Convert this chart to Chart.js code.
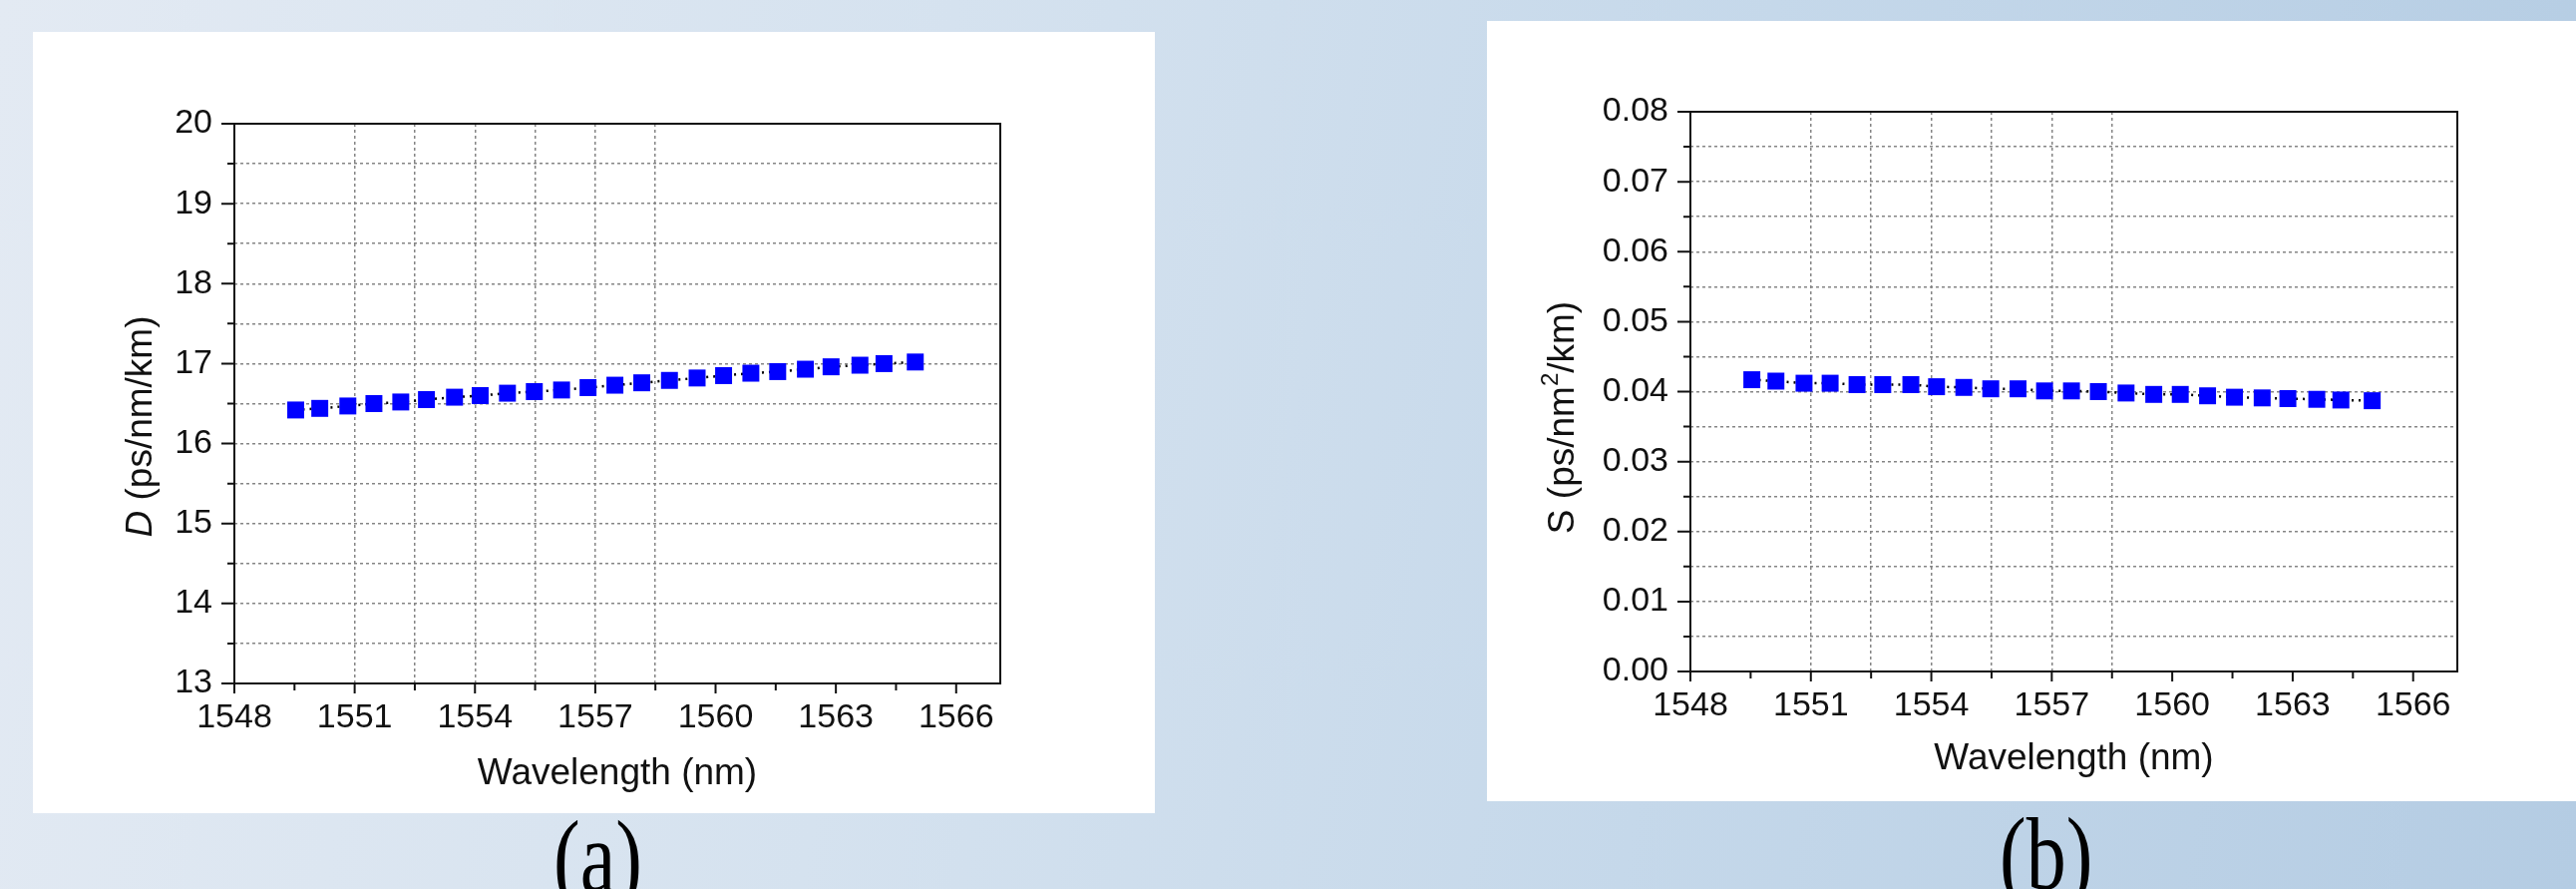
<!DOCTYPE html>
<html>
<head>
<meta charset="utf-8">
<title>Dispersion and dispersion slope</title>
<script src="https://cdn.jsdelivr.net/npm/chart.js@4.4.1/dist/chart.umd.min.js"></script>
<style>
  html, body { margin: 0; padding: 0; width: 2583px; height: 891px; overflow: hidden; }
  body {
    position: relative;
    background: linear-gradient(100deg, #e3eaf3 0%, #d5e2ef 35%, #c5d8ea 65%, #b4cce3 100%);
  }
  .panel { position: absolute; background: #fff; }
  #panelA { left: 33px; top: 32px; width: 1125px; height: 783px; }
  #panelB { left: 1491px; top: 21px; width: 1092px; height: 782px; }
  .tag {
    position: absolute; font-family: "Liberation Serif", "DejaVu Serif", "Times New Roman", serif;
    font-size: 80px; line-height: 1; color: #000;
    transform: scaleY(1.3); transform-origin: 50% 0;
  }
</style>
</head>
<body>
  <div class="panel" id="panelA"><canvas id="chartA" width="1125" height="783"></canvas></div>
  <div class="panel" id="panelB"><canvas id="chartB" width="1092" height="782"></canvas></div>
  <div class="tag" style="left:555px; top:807px;">(a)</div>
  <div class="tag" style="left:2005px; top:804px;">(b)</div>

<script>
  // wavelength of each measured channel (nm)
  const wavelength = [1549.53, 1550.13, 1550.83, 1551.48, 1552.15, 1552.79, 1553.49, 1554.13,
                      1554.81, 1555.48, 1556.16, 1556.82, 1557.49, 1558.16, 1558.85, 1559.54,
                      1560.20, 1560.88, 1561.55, 1562.24, 1562.88, 1563.60, 1564.20, 1564.98];
  // (a) dispersion D, ps/nm/km
  const dispersion = [16.42, 16.44, 16.47, 16.50, 16.52, 16.55, 16.58, 16.60,
                      16.63, 16.65, 16.67, 16.70, 16.73, 16.76, 16.79, 16.82,
                      16.85, 16.88, 16.90, 16.93, 16.96, 16.98, 17.00, 17.02];
  // (b) dispersion slope S, ps/nm^2/km
  const slope = [0.0417, 0.0415, 0.0412, 0.0412, 0.0410, 0.0410, 0.0410, 0.0407,
                 0.0406, 0.0404, 0.0404, 0.0401, 0.0401, 0.0400, 0.0398, 0.0396,
                 0.0396, 0.0394, 0.0392, 0.0391, 0.0390, 0.0389, 0.0388, 0.0387];

  const xTickLabels = [1548, 1551, 1554, 1557, 1560, 1563, 1566];
  const dTickLabels = [13, 14, 15, 16, 17, 18, 19, 20];
  const sTickLabels = ['0.00', '0.01', '0.02', '0.03', '0.04', '0.05', '0.06', '0.07', '0.08'];

  const SANS = '"Liberation Sans", Arial, Helvetica, sans-serif';
  const INK = '#111';
  const GRID = '#858585';

  // frame, outward tick marks and a y title with mixed styles
  const framePlugin = {
    id: 'frame',
    afterDraw(chart, args, opts) {
      const { ctx, chartArea: a, scales: { x, y } } = chart;
      ctx.save();
      ctx.strokeStyle = INK;
      ctx.lineWidth = 2;
      ctx.strokeRect(a.left, a.top, a.right - a.left, a.bottom - a.top);

      ctx.beginPath();
      x.ticks.forEach(t => {
        const px = x.getPixelForValue(t.value);
        const len = t.label !== '' ? 10 : 7;
        ctx.moveTo(px, a.bottom);
        ctx.lineTo(px, a.bottom + len);
      });
      y.ticks.forEach(t => {
        const py = y.getPixelForValue(t.value);
        const len = t.label !== '' ? 13 : 7;
        ctx.moveTo(a.left, py);
        ctx.lineTo(a.left - len, py);
      });
      ctx.stroke();

      // y axis title
      const parts = opts.yTitle || [];
      const cx = a.left + opts.titleDx;
      const cy = (a.top + a.bottom) / 2 + opts.titleDy;
      ctx.translate(cx, cy);
      ctx.rotate(-Math.PI / 2);
      ctx.fillStyle = INK;
      ctx.textBaseline = 'middle';
      ctx.textAlign = 'left';
      const fontOf = p => (p.italic ? 'italic ' : '') + (p.sup ? 24 : 37) + 'px ' + SANS;
      let total = 0;
      parts.forEach(p => { ctx.font = fontOf(p); total += ctx.measureText(p.text).width; });
      let pos = -total / 2;
      parts.forEach(p => {
        ctx.font = fontOf(p);
        ctx.fillText(p.text, pos, p.sup ? -13 : 0);
        pos += ctx.measureText(p.text).width;
      });
      ctx.restore();
    }
  };

  function makeChart(id, values, yOpts, pad, frameOpts, titlePadBottom) {
    return new Chart(document.getElementById(id), {
      type: 'scatter',
      data: {
        datasets: [{
          data: wavelength.map((w, i) => ({ x: w, y: values[i] })),
          showLine: true,
          borderColor: '#000',
          borderWidth: 2.5,
          borderDash: [2, 5],
          pointStyle: 'rect',
          pointRadius: 12,
          pointBackgroundColor: '#0000ff',
          pointBorderColor: '#0000ff',
          pointBorderWidth: 0
        }]
      },
      options: {
        responsive: false,
        animation: false,
        layout: { padding: pad },
        plugins: { legend: { display: false }, tooltip: { enabled: false }, frame: frameOpts },
        scales: {
          x: {
            type: 'linear',
            min: 1548,
            max: 1567.1,
            afterFit: s => { s.height = 130; },
            ticks: {
              stepSize: 1.5,
              autoSkip: false,
              includeBounds: false,
              maxRotation: 0,
              padding: 14,
              color: INK,
              font: { family: SANS, size: 34 },
              callback: v => xTickLabels.includes(v) ? String(v) : ''
            },
            title: {
              display: true,
              text: 'Wavelength (nm)',
              color: INK,
              font: { family: SANS, size: 37 },
              padding: { top: 0, bottom: titlePadBottom }
            },
            grid: {
              drawTicks: false,
              lineWidth: 1.5,
              color: c => (c.tick && c.tick.value > 1550 && c.tick.value < 1559) ? GRID : 'rgba(0,0,0,0)'
            },
            border: { display: false, dash: [3, 3] }
          },
          y: Object.assign({
            afterFit: s => { s.width = pad.yWidth; },
            grid: {
              drawTicks: false,
              lineWidth: 1.5,
              color: c => (c.tick && c.tick.value > yOpts.min && c.tick.value < yOpts.max) ? GRID : 'rgba(0,0,0,0)'
            },
            border: { display: false, dash: [3, 3] }
          }, yOpts)
        }
      },
      plugins: [framePlugin]
    });
  }

  makeChart('chartA', dispersion, {
    min: 13, max: 20,
    ticks: {
      stepSize: 0.5, autoSkip: false, padding: 22, color: INK,
      font: { family: SANS, size: 34 },
      callback: v => dTickLabels.includes(v) ? String(v) : ''
    }
  }, { left: 0, top: 92, right: 155, bottom: 0, yWidth: 202 },
  { yTitle: [{ text: 'D', italic: true }, { text: ' (ps/nm/km)' }], titleDx: -93, titleDy: 23 }, 17);

  makeChart('chartB', slope, {
    min: 0, max: 0.08,
    ticks: {
      stepSize: 0.005, autoSkip: false, padding: 22, color: INK,
      font: { family: SANS, size: 34 },
      callback: v => {
        const lbl = v.toFixed(2);
        return (sTickLabels.includes(lbl) && Math.abs(v - parseFloat(lbl)) < 1e-9) ? lbl : '';
      }
    }
  }, { left: 0, top: 91, right: 119, bottom: 0, yWidth: 204 },
  { yTitle: [{ text: 'S (ps/nm' }, { text: '2', sup: true }, { text: '/km)' }], titleDx: -127, titleDy: 26 }, 20);
</script>
</body>
</html>
